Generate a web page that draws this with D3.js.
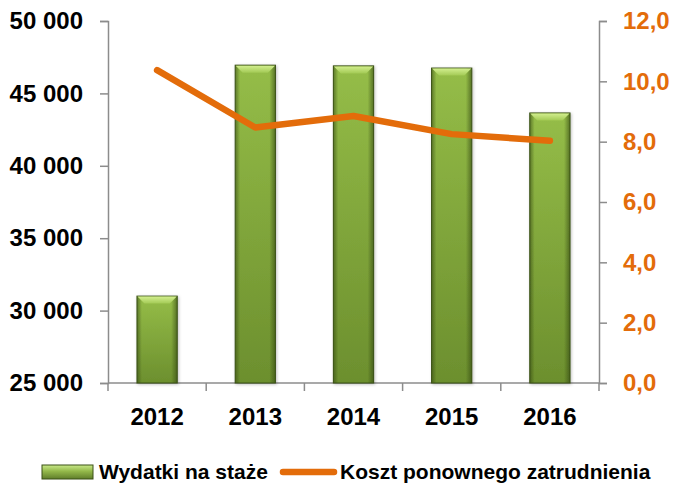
<!DOCTYPE html>
<html>
<head>
<meta charset="utf-8">
<script src="https://cdn.jsdelivr.net/npm/d3@7"></script>
<style>
  body { margin: 0; background: #fff; }
  text { font-family: "Liberation Sans", Arial, sans-serif; font-weight: bold; }
</style>
</head>
<body>
<div id="chart"></div>
<script>
var years = ["2012", "2013", "2014", "2015", "2016"];
var wydatki = [31000, 46950, 46900, 46750, 43650];
var koszt = [10.37, 8.47, 8.85, 8.25, 8.03];
var leftTicks = [25000, 30000, 35000, 40000, 45000, 50000];
var rightTicks = [0, 2, 4, 6, 8, 10, 12];
var legendLabels = ["Wydatki na staże", "Koszt ponownego zatrudnienia"];

var width = 673, height = 485;
var plotLeft = 108, plotRight = 599, plotTop = 21, plotBottom = 383;

var svg = d3.select("#chart")
    .append("svg")
    .attr("width", width)
    .attr("height", height);

var defs = svg.append("defs");

// bar body: vertical shading, lighter at top
var g1 = defs.append("linearGradient").attr("id", "barBody")
    .attr("x1", "0").attr("x2", "0").attr("y1", "0").attr("y2", "1");
g1.append("stop").attr("offset", "0%").attr("stop-color", "#95bd48");
g1.append("stop").attr("offset", "100%").attr("stop-color", "#6c8f2e");

// darker side edges
var gE = defs.append("linearGradient").attr("id", "barEdge")
    .attr("x1", "0").attr("x2", "1").attr("y1", "0").attr("y2", "0");
gE.append("stop").attr("offset", "0%").attr("stop-color", "#2f4210").attr("stop-opacity", 0.55);
gE.append("stop").attr("offset", "12%").attr("stop-color", "#2f4210").attr("stop-opacity", 0);
gE.append("stop").attr("offset", "85%").attr("stop-color", "#2f4210").attr("stop-opacity", 0);
gE.append("stop").attr("offset", "100%").attr("stop-color", "#2f4210").attr("stop-opacity", 0.6);

// top bevel gradient
var g2 = defs.append("linearGradient").attr("id", "barTop")
    .attr("x1", "0").attr("x2", "0").attr("y1", "0").attr("y2", "1");
g2.append("stop").attr("offset", "0%").attr("stop-color", "#d2ee8e");
g2.append("stop").attr("offset", "100%").attr("stop-color", "#a3ca55");

// legend swatch gradient
var g3 = defs.append("linearGradient").attr("id", "legSwatch")
    .attr("x1", "0").attr("x2", "0").attr("y1", "0").attr("y2", "1");
g3.append("stop").attr("offset", "0%").attr("stop-color", "#c9e98a");
g3.append("stop").attr("offset", "45%").attr("stop-color", "#93b84a");
g3.append("stop").attr("offset", "100%").attr("stop-color", "#5f7d2a");

var shadow = defs.append("filter").attr("id", "shadow")
    .attr("x", "-20%").attr("y", "-10%").attr("width", "150%").attr("height", "130%");
shadow.append("feDropShadow").attr("dx", 1).attr("dy", 1)
    .attr("stdDeviation", 1.5).attr("flood-color", "#000").attr("flood-opacity", 0.25);

var x = d3.scaleBand().domain(years).range([plotLeft, plotRight])
    .paddingInner(0.59).paddingOuter(0.295);
var y0 = d3.scaleLinear().domain([25000, 50000]).range([plotBottom, plotTop]);
var y1 = d3.scaleLinear().domain([0, 12]).range([plotBottom, plotTop]);

var axisColor = "#8c8c8c";
var fmt = function(d) { return d3.format(",")(d).replace(",", " "); };
var fmt1 = function(d) { return d.toFixed(1).replace(".", ","); };

// left axis
var la = svg.append("g")
    .attr("transform", "translate(" + plotLeft + ",0)")
    .call(d3.axisLeft(y0).tickValues(leftTicks).tickFormat(fmt).tickSize(8).tickPadding(17));
la.select(".domain").attr("stroke", axisColor).attr("stroke-width", 1.5);
la.selectAll(".tick line").attr("stroke", axisColor).attr("stroke-width", 1.5);
la.selectAll("text").attr("font-size", 24).attr("fill", "#000")
    .attr("font-family", "Liberation Sans, Arial, sans-serif").attr("font-weight", "bold");

// right axis
var ra = svg.append("g")
    .attr("transform", "translate(" + plotRight + ",0)")
    .call(d3.axisRight(y1).tickValues(rightTicks).tickFormat(fmt1).tickSize(8).tickPadding(16));
ra.select(".domain").attr("stroke", axisColor).attr("stroke-width", 1.5);
ra.selectAll(".tick line").attr("stroke", axisColor).attr("stroke-width", 1.5);
ra.selectAll("text").attr("font-size", 24).attr("fill", "#e36c0a")
    .attr("font-family", "Liberation Sans, Arial, sans-serif").attr("font-weight", "bold");

// bottom axis: line, ticks between categories, labels under bands
var gap = (x.step() - x.bandwidth()) / 2;
var bounds = years.map(function(d) { return x(d) - gap; });
bounds.push(plotRight);
svg.append("line")
    .attr("x1", plotLeft).attr("x2", plotRight).attr("y1", plotBottom).attr("y2", plotBottom)
    .attr("stroke", axisColor).attr("stroke-width", 1.5);
svg.selectAll(".xtick").data(bounds).enter().append("line")
    .attr("class", "xtick")
    .attr("x1", function(d) { return d; }).attr("x2", function(d) { return d; })
    .attr("y1", plotBottom).attr("y2", plotBottom + 8)
    .attr("stroke", axisColor).attr("stroke-width", 1.5);
svg.selectAll(".xlab").data(years).enter().append("text")
    .attr("class", "xlab")
    .attr("x", function(d) { return x(d) + x.bandwidth() / 2; })
    .attr("y", plotBottom + 42)
    .attr("text-anchor", "middle")
    .attr("font-size", 24)
    .attr("fill", "#000")
    .text(function(d) { return d; });

// bars
var bev = 7;
var bars = svg.selectAll(".bar").data(years).enter().append("g")
    .attr("class", "bar")
    .attr("filter", "url(#shadow)");
bars.append("rect")
    .attr("x", function(d) { return x(d); })
    .attr("y", function(d, i) { return y0(wydatki[i]); })
    .attr("width", x.bandwidth())
    .attr("height", function(d, i) { return plotBottom - y0(wydatki[i]); })
    .attr("fill", "url(#barBody)");
bars.append("rect")
    .attr("x", function(d) { return x(d); })
    .attr("y", function(d, i) { return y0(wydatki[i]); })
    .attr("width", x.bandwidth())
    .attr("height", function(d, i) { return plotBottom - y0(wydatki[i]); })
    .attr("fill", "url(#barEdge)")
    .attr("stroke", "#3b5116")
    .attr("stroke-width", 1);
bars.append("polygon")
    .attr("points", function(d, i) {
        var x0 = x(d) + 0.5, x1 = x(d) + x.bandwidth() - 0.5, yt = y0(wydatki[i]) + 0.5;
        return [[x0, yt], [x1, yt], [x1 - bev, yt + bev], [x0 + bev, yt + bev]].join(" ");
    })
    .attr("fill", "url(#barTop)");

// line
var line = d3.line()
    .x(function(d, i) { return x(years[i]) + x.bandwidth() / 2; })
    .y(function(d) { return y1(d); });
svg.append("path")
    .datum(koszt)
    .attr("d", line)
    .attr("fill", "none")
    .attr("stroke", "#e36c0a")
    .attr("stroke-width", 6.5)
    .attr("stroke-linecap", "round")
    .attr("stroke-linejoin", "round");

// legend
var leg = svg.append("g");
leg.append("rect")
    .attr("x", 42).attr("y", 465).attr("width", 51).attr("height", 14)
    .attr("fill", "url(#legSwatch)").attr("stroke", "#3b5116").attr("stroke-width", 1);
leg.append("text")
    .attr("x", 99).attr("y", 479)
    .attr("font-size", 21).attr("fill", "#000")
    .text(legendLabels[0]);
leg.append("line")
    .attr("x1", 283).attr("x2", 334).attr("y1", 472).attr("y2", 472)
    .attr("stroke", "#e36c0a").attr("stroke-width", 6.5).attr("stroke-linecap", "round");
leg.append("text")
    .attr("x", 340).attr("y", 479)
    .attr("font-size", 21).attr("fill", "#000")
    .text(legendLabels[1]);
</script>
</body>
</html>
